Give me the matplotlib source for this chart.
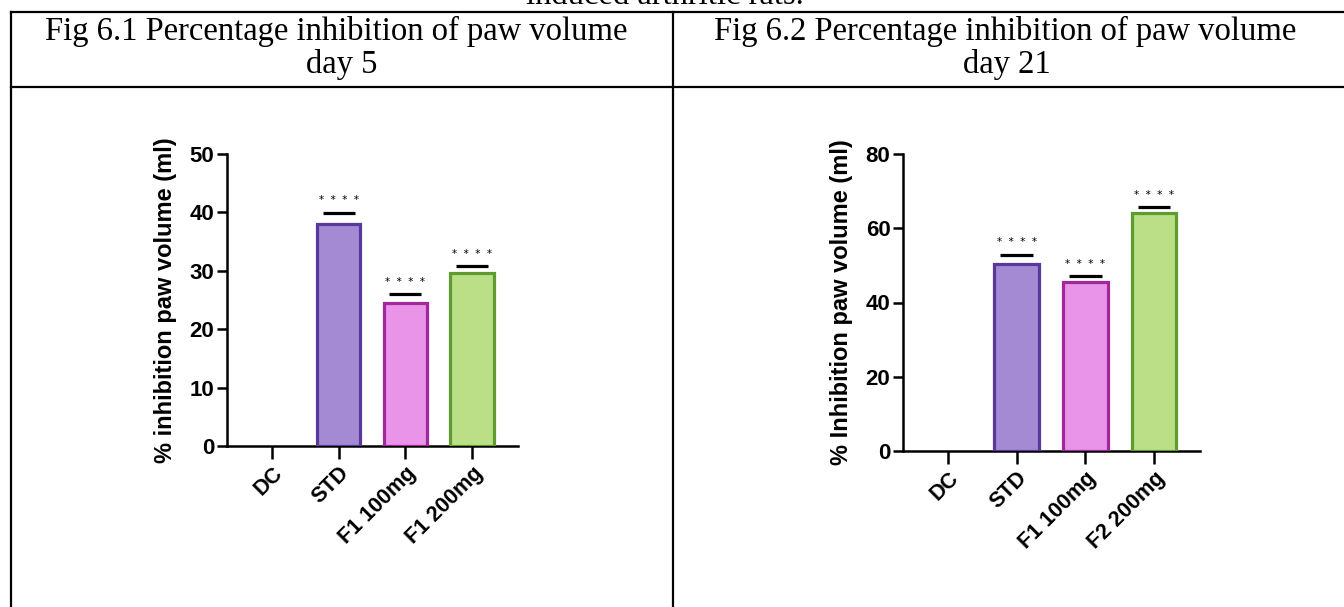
import numpy as np
import matplotlib
matplotlib.use('Agg')
import matplotlib.pyplot as plt
from matplotlib.lines import Line2D

# data
groups_a = ['DC', 'STD', 'F1 100mg', 'F1 200mg']
values_a = [0, 38.0, 24.5, 29.7]
sig_a = [None, 39.9, 26.0, 30.8]

groups_b = ['DC', 'STD', 'F1 100mg', 'F2 200mg']
values_b = [0, 50.5, 45.6, 64.0]
sig_b = [None, 52.8, 47.1, 65.7]

fills = ['none', '#a48ad3', '#e993e9', '#badf86']
edges = ['none', '#58389a', '#a1289b', '#5f9b2f']

W, H = 1344, 607
fig = plt.figure(figsize=(W / 100, H / 100), dpi=100)


def fx(px):
    return px / W


def fy(py):
    return 1 - py / H


# table frame
for (x0, y0, x1, y1) in [(11, 12, W, 12), (11, 87, W, 87), (11, 12, 11, H), (673, 12, 673, H)]:
    fig.add_artist(Line2D([fx(x0), fx(x1)], [fy(y0), fy(y1)], color='black', lw=1.6))

serif = 'Liberation Serif'
hs = 23.5
fig.text(fx(665), fy(4), 'induced arthritic rats.', ha='center', va='baseline',
         family=serif, fontsize=hs)
fig.text(fx(336), fy(31), 'Fig 6.1 Percentage inhibition of paw volume', ha='center', va='center',
         family=serif, fontsize=hs)
fig.text(fx(342), fy(65), 'day 5', ha='center', va='center', family=serif, fontsize=hs)
fig.text(fx(1005), fy(31), 'Fig 6.2 Percentage inhibition of paw volume', ha='center', va='center',
         family=serif, fontsize=hs)
fig.text(fx(1007), fy(65), 'day 21', ha='center', va='center', family=serif, fontsize=hs)


def draw(ax, groups, values, sig, ymax, ystep, ylabel, xlim):
    x = np.arange(len(groups))
    ax.bar(x, values, width=0.65, color=fills, edgecolor=edges, linewidth=2.3, zorder=3)
    for xi, s in zip(x, sig):
        if s is None:
            continue
        ax.plot([xi - 0.24, xi + 0.24], [s, s], color='black', lw=2.3, solid_capstyle='butt')
        ax.annotate('*  *  *  *', (xi, s), xytext=(0, 9), textcoords='offset points',
                    ha='center', va='center', fontsize=7.5)
    ax.set_xlim(*xlim)
    ax.set_ylim(0, ymax)
    ax.set_yticks(np.arange(0, ymax + 1, ystep))
    ax.set_xticks(x)
    ax.set_xticklabels(groups, rotation=45, ha='right', rotation_mode='anchor',
                       family='Liberation Sans', fontweight='bold', fontsize=15.5)
    for lab in ax.get_yticklabels():
        lab.set_family('Liberation Sans')
        lab.set_fontweight('bold')
        lab.set_fontsize(16)
    ax.set_ylabel(ylabel, family='Liberation Sans', fontweight='bold', fontsize=17, labelpad=9)
    for sp in ['top', 'right']:
        ax.spines[sp].set_visible(False)
    for sp in ['left', 'bottom']:
        ax.spines[sp].set_linewidth(1.8)
    ax.tick_params(axis='x', length=9, width=1.8, pad=3)
    ax.tick_params(axis='y', length=7, width=1.8, pad=2)
    ax.patch.set_visible(False)


ax1 = fig.add_axes([fx(227), fy(446), fx(518 - 227), (446 - 154) / H])
draw(ax1, groups_a, values_a, sig_a, 50, 10, '% inhibition paw volume (ml)', (-0.675, 3.69))

ax2 = fig.add_axes([fx(903), fy(451), fx(1200 - 903), (451 - 154) / H])
draw(ax2, groups_b, values_b, sig_b, 80, 20, '% Inhibition paw volume (ml)', (-0.655, 3.67))

fig.savefig('out.png', dpi=100)
